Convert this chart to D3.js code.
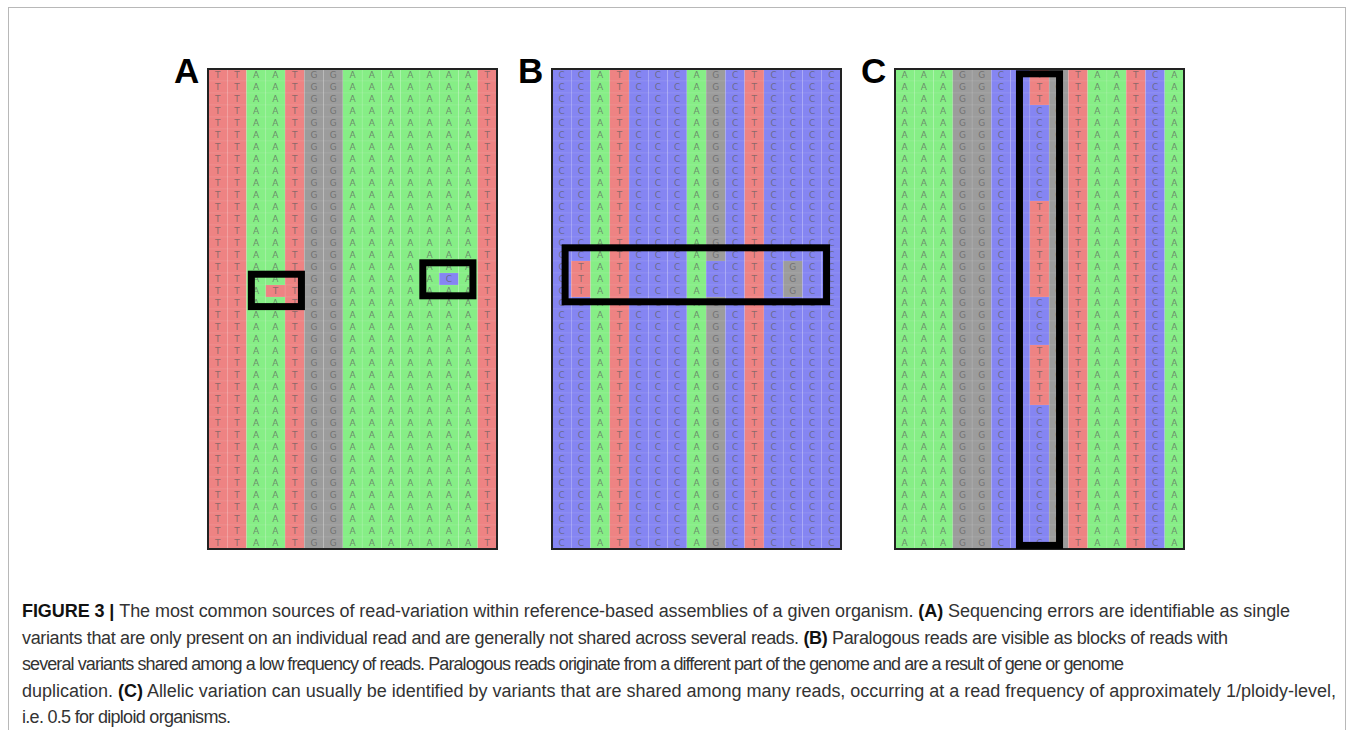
<!DOCTYPE html>
<html>
<head>
<meta charset="utf-8">
<script src="https://cdn.jsdelivr.net/npm/d3@7"></script>
<style>
  body { margin: 0; background: #fff; }
  svg { display: block; }
</style>
</head>
<body>
<script>
// read pile-ups, one string of bases per column (left to right)
const panelNames = ["A", "B", "C"]
const columnsA = ["T","T","A","A","T","G","G","A","A","A","A","A","A","A","T"]
const columnsB = ["C","C","A","T","C","C","C","A","G","C","T","C","C","C","C"]
const columnsC = ["A","A","A","G","G","C","C","C","G","T","A","A","T","C","A"]
const nRows = 40

// bases that differ from the column consensus
const variantsA = [
  {col: 3, row: 18, base: "T"},
  {col: 12, row: 17, base: "C"}
]
const variantsB = [
  {col: 1, row: 16, base: "T"}, {col: 8, row: 16, base: "C"}, {col: 12, row: 16, base: "G"},
  {col: 1, row: 17, base: "T"}, {col: 8, row: 17, base: "C"}, {col: 12, row: 17, base: "G"},
  {col: 1, row: 18, base: "T"}, {col: 8, row: 18, base: "C"}, {col: 12, row: 18, base: "G"}
]
const variantRowsC = [0, 1, 2, 11, 12, 13, 14, 15, 16, 17, 18, 23, 24, 25, 26, 27]

// highlight boxes in column / row units
const boxesA = [
  {c0: 2.25, c1: 4.85, r0: 17.1, r1: 19.8},
  {c0: 11.15, c1: 13.75, r0: 16.15, r1: 18.9}
]
const boxesB = [{c0: 0.68, c1: 14.25, r0: 14.9, r1: 19.4}]
const boxesC = [{c0: 6.46, c1: 8.54, r0: 0.4, r1: 39.7}]

const captionLines = [
  [["FIGURE 3 | ", true], ["The most common sources of read-variation within reference-based assemblies of a given organism. ", false], ["(A)", true], [" Sequencing errors are identifiable as single", false]],
  [["variants that are only present on an individual read and are generally not shared across several reads. ", false], ["(B)", true], [" Paralogous reads are visible as blocks of reads with", false]],
  [["several variants shared among a low frequency of reads. Paralogous reads originate from a different part of the genome and are a result of gene or genome", false]],
  [["duplication. ", false], ["(C)", true], [" Allelic variation can usually be identified by variants that are shared among many reads, occurring at a read frequency of approximately 1/ploidy-level,", false]],
  [["i.e. 0.5 for diploid organisms.", false]]
]
const captionEnds = [1290, 1228, 1124, 1336, 231]

window.onload = function() {
  var width = 1354
  var height = 730

  var baseColor = {A: "#86ee86", T: "#ee8383", C: "#8585f2", G: "#9c9c9c"}

  var svg = d3.select("body")
              .append("svg")
              .attr("width", width)
              .attr("height", height)

  // figure frame
  svg.append("rect")
     .attr("x", 8.5).attr("y", 7.5)
     .attr("width", 1337).attr("height", 740)
     .attr("fill", "none")
     .attr("stroke", "#b8b8b8")
     .attr("stroke-width", 1)

  var variantsC = variantRowsC.map(function(r) { return {col: 7, row: r, base: "T"} })

  var panels = [
    {name: panelNames[0], x0: 208, cols: columnsA, variants: variantsA, boxes: boxesA},
    {name: panelNames[1], x0: 552, cols: columnsB, variants: variantsB, boxes: boxesB},
    {name: panelNames[2], x0: 895, cols: columnsC, variants: variantsC, boxes: boxesC}
  ]

  panels.forEach(function(p) {
    var x = d3.scaleLinear().domain([0, p.cols.length]).range([p.x0, p.x0 + 289])
    var y = d3.scaleLinear().domain([0, nRows]).range([69, 549])
    var cw = x(1) - x(0)
    var rh = y(1) - y(0)

    // build the cells, then override the variants
    var cells = []
    d3.range(nRows).forEach(function(r) {
      p.cols.forEach(function(b, c) {
        cells.push({col: c, row: r, base: b})
      })
    })
    var lookup = {}
    p.variants.forEach(function(v) { lookup[v.col + "_" + v.row] = v.base })
    cells.forEach(function(d) {
      if (lookup[d.col + "_" + d.row]) d.base = lookup[d.col + "_" + d.row]
    })

    var g = svg.append("g").attr("class", "panel")

    g.selectAll("rect.cell")
     .data(cells)
     .enter().append("rect")
     .attr("class", "cell")
     .attr("x", function(d) { return x(d.col) })
     .attr("y", function(d) { return y(d.row) })
     .attr("width", cw)
     .attr("height", rh)
     .attr("fill", function(d) { return baseColor[d.base] })
     .attr("stroke", "#ffffff")
     .attr("stroke-opacity", 0.12)
     .attr("stroke-width", 0.6)

    g.selectAll("text.base")
     .data(cells)
     .enter().append("text")
     .attr("class", "base")
     .attr("x", function(d) { return x(d.col + 0.5) })
     .attr("y", function(d) { return y(d.row + 0.5) + 3.2 })
     .attr("text-anchor", "middle")
     .attr("font-family", "DejaVu Sans, sans-serif")
     .attr("font-size", 9)
     .attr("fill", "#5e5e5e")
     .attr("fill-opacity", 0.7)
     .text(function(d) { return d.base })

    // panel border
    g.append("rect")
     .attr("x", x(0)).attr("y", y(0))
     .attr("width", x(p.cols.length) - x(0))
     .attr("height", y(nRows) - y(0))
     .attr("fill", "none")
     .attr("stroke", "#222")
     .attr("stroke-width", 2)

    // highlight boxes
    g.selectAll("rect.box")
     .data(p.boxes)
     .enter().append("rect")
     .attr("class", "box")
     .attr("x", function(d) { return x(d.c0) })
     .attr("y", function(d) { return y(d.r0) })
     .attr("width", function(d) { return x(d.c1) - x(d.c0) })
     .attr("height", function(d) { return y(d.r1) - y(d.r0) })
     .attr("fill", "none")
     .attr("stroke", "#000")
     .attr("stroke-width", 7)

    // panel letter
    svg.append("text")
       .attr("x", p.x0 - 34)
       .attr("y", 83)
       .attr("font-family", "Liberation Sans, Arial, sans-serif")
       .attr("font-weight", "bold")
       .attr("font-size", 35)
       .attr("fill", "#000")
       .text(p.name)
  })

  // caption, condensed face, spacing fitted to the measured line widths
  captionLines.forEach(function(line, i) {
    var t = svg.append("text")
               .attr("x", 22)
               .attr("y", 617 + i * 26.5)
               .attr("font-family", "Liberation Sans Narrow, Arial Narrow, Liberation Sans, sans-serif")
               .attr("font-size", 18)
               .attr("fill", "#333")
               .attr("textLength", captionEnds[i] - 22)
               .attr("lengthAdjust", "spacing")
    line.forEach(function(part) {
      t.append("tspan")
       .attr("font-weight", part[1] ? "bold" : "normal")
       .attr("fill", part[1] ? "#111" : "#333")
       .text(part[0])
    })
  })
}
</script>
</body>
</html>
